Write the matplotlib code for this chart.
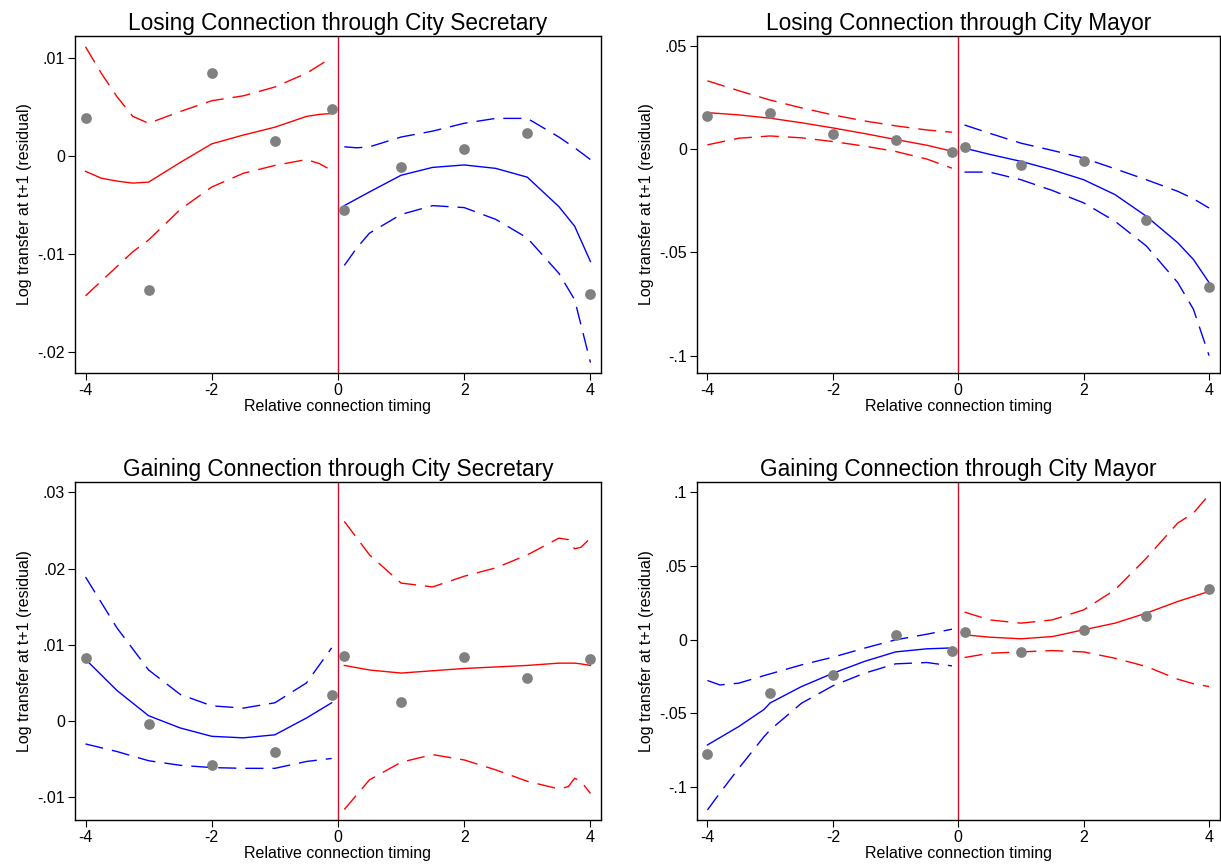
import numpy as np
import matplotlib
matplotlib.use("Agg")
import matplotlib.pyplot as plt

plt.rcParams['font.family'] = ['Liberation Sans', 'DejaVu Sans']

# scatter points (same x for every panel)
pt_x = [-4, -3, -2, -1, -0.1, 0.1, 1, 2, 3, 4]

# --- panel 1: losing, secretary
p1_pts = [0.0038, -0.0137, 0.0084, 0.0015, 0.0048, -0.0055, -0.0012, 0.0007, 0.0023, -0.0141]
p1_lx = [-4, -3.75, -3.5, -3.25, -3, -2.5, -2, -1.5, -1, -0.5, -0.3, -0.1]
p1_l_fit = [-0.0016, -0.0023, -0.0026, -0.0028, -0.0027, -0.0007, 0.0012, 0.0021, 0.0029, 0.0040, 0.0042, 0.0043]
p1_l_hi = [0.0111, 0.0084, 0.0060, 0.0040, 0.0033, 0.0045, 0.0056, 0.0061, 0.0070, 0.0084, 0.0092, 0.0100]
p1_l_lo = [-0.0143, -0.0128, -0.0113, -0.0098, -0.0086, -0.0055, -0.0032, -0.0018, -0.0010, -0.0004, -0.0008, -0.0015]
p1_rx = [0.1, 0.3, 0.5, 1, 1.5, 2, 2.5, 3, 3.5, 3.75, 4]
p1_r_fit = [-0.0051, -0.0044, -0.0037, -0.0020, -0.0012, -0.00095, -0.0013, -0.0022, -0.0052, -0.0072, -0.0108]
p1_r_hi = [0.0009, 0.0008, 0.0009, 0.0019, 0.0025, 0.0033, 0.0038, 0.0038, 0.0019, 0.0008, -0.0004]
p1_r_lo = [-0.0112, -0.0094, -0.0079, -0.0060, -0.0051, -0.0053, -0.0065, -0.0084, -0.0120, -0.0147, -0.0211]

# --- panel 2: losing, mayor
p2_pts = [0.0161, 0.0177, 0.0074, 0.0045, -0.0015, 0.0011, -0.0079, -0.0055, -0.0342, -0.0666]
p2_lx = [-4, -3.5, -3, -2.5, -2, -1.5, -1, -0.5, -0.1]
p2_l_fit = [0.0177, 0.0166, 0.0150, 0.0128, 0.0103, 0.0076, 0.0047, 0.0019, -0.0010]
p2_l_hi = [0.0331, 0.0283, 0.0238, 0.0200, 0.0166, 0.0137, 0.0113, 0.0093, 0.0082]
p2_l_lo = [0.0021, 0.0053, 0.0064, 0.0055, 0.0037, 0.0015, -0.0011, -0.0048, -0.0092]
p2_rx = [0.1, 0.5, 1, 1.5, 2, 2.5, 3, 3.5, 3.75, 4]
p2_r_fit = [0.0005, -0.0025, -0.0059, -0.0100, -0.0148, -0.0220, -0.0325, -0.0453, -0.0534, -0.0646]
p2_r_hi = [0.0117, 0.0077, 0.0029, -0.0006, -0.0043, -0.0095, -0.0148, -0.0204, -0.0240, -0.0285]
p2_r_lo = [-0.0111, -0.0111, -0.0148, -0.0200, -0.0260, -0.0349, -0.0469, -0.0646, -0.0775, -0.1000]

# --- panel 3: gaining, secretary
p3_pts = [0.0083, -0.0004, -0.0057, -0.0041, 0.0034, 0.0086, 0.0025, 0.0084, 0.0056, 0.0081]
p3_lx = [-4, -3.5, -3, -2.5, -2, -1.5, -1, -0.5, -0.1]
p3_l_fit = [0.0081, 0.0040, 0.0007, -0.0009, -0.0020, -0.0022, -0.0018, 0.0004, 0.0024]
p3_l_hi = [0.0189, 0.0122, 0.0067, 0.0035, 0.0020, 0.0017, 0.0024, 0.0050, 0.0096]
p3_l_lo = [-0.0030, -0.0040, -0.0052, -0.0058, -0.0061, -0.0062, -0.0062, -0.0053, -0.0049]
p3_rx = [0.1, 0.5, 1, 1.5, 2, 2.5, 3, 3.5, 3.65, 3.75, 3.85, 4]
p3_r_fit = [0.0073, 0.0067, 0.0063, 0.0066, 0.0069, 0.0071, 0.0073, 0.0076, 0.0076, 0.0076, 0.0075, 0.0073]
p3_r_hi = [0.0262, 0.0218, 0.0181, 0.0176, 0.0190, 0.0201, 0.0218, 0.0240, 0.0238, 0.0226, 0.0228, 0.0240]
p3_r_lo = [-0.0116, -0.0077, -0.0054, -0.0044, -0.0051, -0.0064, -0.0079, -0.0089, -0.0086, -0.0075, -0.0079, -0.0095]

# --- panel 4: gaining, mayor
p4_pts = [-0.0778, -0.0360, -0.0238, 0.0029, -0.0079, 0.0054, -0.0086, 0.0066, 0.0161, 0.0342]
p4_lx = [-4, -3.8, -3.5, -3.1, -3, -2.5, -2, -1.5, -1, -0.5, -0.1]
p4_l_fit = [-0.0715, -0.0665, -0.0590, -0.0475, -0.0430, -0.0319, -0.0229, -0.0149, -0.0084, -0.0063, -0.0057]
p4_l_hi = [-0.0278, -0.0308, -0.0296, -0.0245, -0.0233, -0.0172, -0.0120, -0.0059, -0.0002, 0.0036, 0.0070]
p4_l_lo = [-0.1156, -0.1040, -0.0873, -0.0660, -0.0613, -0.0432, -0.0314, -0.0229, -0.0165, -0.0156, -0.0179]
p4_rx = [0.1, 0.5, 1, 1.5, 2, 2.5, 3, 3.5, 3.75, 4]
p4_r_fit = [0.0032, 0.0016, 0.0005, 0.0020, 0.0066, 0.0111, 0.0179, 0.0258, 0.0292, 0.0326]
p4_r_hi = [0.0186, 0.0133, 0.0111, 0.0133, 0.0201, 0.0337, 0.0552, 0.0790, 0.0857, 0.0982]
p4_r_lo = [-0.0122, -0.0093, -0.0084, -0.0075, -0.0084, -0.0127, -0.0183, -0.0269, -0.0300, -0.0319]

titles = ["Losing Connection through City Secretary", "Losing Connection through City Mayor",
          "Gaining Connection through City Secretary", "Gaining Connection through City Mayor"]
yticks = [[0.01, 0, -0.01, -0.02], [0.05, 0, -0.05, -0.1],
          [0.03, 0.02, 0.01, 0, -0.01], [0.1, 0.05, 0, -0.05, -0.1]]
yticklabels = [['.01', '0', '-.01', '-.02'], ['.05', '0', '-.05', '-.1'],
               ['.03', '.02', '.01', '0', '-.01'], ['.1', '.05', '0', '-.05', '-.1']]
ylims = [(-0.02217, 0.0122), (-0.1084, 0.0548), (-0.01298, 0.03136), (-0.1224, 0.1068)]

panels = [
    (p1_pts, p1_lx, p1_l_fit, p1_l_hi, p1_l_lo, p1_rx, p1_r_fit, p1_r_hi, p1_r_lo, 'red', 'blue'),
    (p2_pts, p2_lx, p2_l_fit, p2_l_hi, p2_l_lo, p2_rx, p2_r_fit, p2_r_hi, p2_r_lo, 'red', 'blue'),
    (p3_pts, p3_lx, p3_l_fit, p3_l_hi, p3_l_lo, p3_rx, p3_r_fit, p3_r_hi, p3_r_lo, 'blue', 'red'),
    (p4_pts, p4_lx, p4_l_fit, p4_l_hi, p4_l_lo, p4_rx, p4_r_fit, p4_r_hi, p4_r_lo, 'blue', 'red'),
]

positions = [[0.0614, 0.5683, 0.4308, 0.3900], [0.5708, 0.5683, 0.4280, 0.3900],
             [0.0614, 0.0509, 0.4308, 0.3912], [0.5708, 0.0509, 0.4280, 0.3912]]

fig = plt.figure(figsize=(12.21, 8.64), dpi=100)
dash = (0, (13, 6.5))

for i, p in enumerate(panels):
    pts, lx, lfit, lhi, llo, rx, rfit, rhi, rlo, lcol, rcol = p
    ax = fig.add_axes(positions[i])
    ax.plot(lx, lfit, color=lcol, lw=1.0)
    ax.plot(lx, lhi, color=lcol, lw=1.0, linestyle=dash)
    ax.plot(lx, llo, color=lcol, lw=1.0, linestyle=dash)
    ax.plot(rx, rfit, color=rcol, lw=1.0)
    ax.plot(rx, rhi, color=rcol, lw=1.0, linestyle=dash)
    ax.plot(rx, rlo, color=rcol, lw=1.0, linestyle=dash)
    ax.axvline(0, color='#c8102e', lw=1.0)
    ax.scatter(pt_x, pts, s=60, color='#808080', zorder=3, linewidths=0)
    ax.set_xlim(-4.167, 4.167)
    ax.set_ylim(*ylims[i])
    ax.set_xticks([-4, -2, 0, 2, 4])
    ax.set_xticklabels(['-4', '-2', '0', '2', '4'])
    ax.set_yticks(yticks[i])
    ax.set_yticklabels(yticklabels[i])
    ax.tick_params(direction='out', length=5, width=0.8, labelsize=11.5, pad=2)
    for s in ax.spines.values():
        s.set_linewidth(1.0)
    ax.set_title(titles[i], fontsize=16.3, pad=4)
    ax.set_xlabel("Relative connection timing", fontsize=11.5, labelpad=1)
    ax.set_ylabel("Log transfer at t+1 (residual)", fontsize=11.5, labelpad=4)

fig.savefig("out.png", dpi=100)
